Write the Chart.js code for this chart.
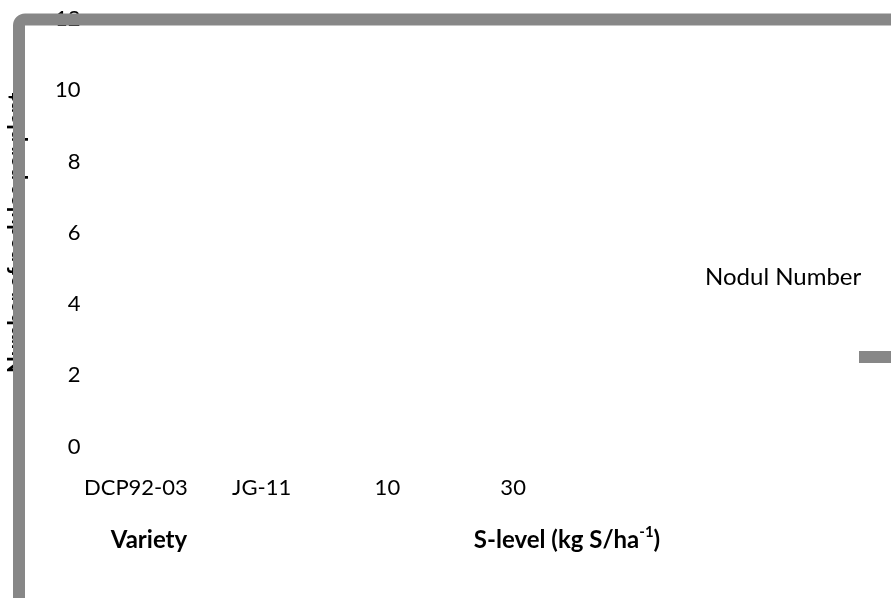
<!DOCTYPE html>
<html>
<head>
<meta charset="utf-8">
<script src="https://cdn.jsdelivr.net/npm/chart.js@4.4.1/dist/chart.umd.min.js"></script>
<style>
  html, body { margin: 0; padding: 0; background: #fff; }
  #wrap { width: 891px; height: 598px; }
</style>
</head>
<body>
<div id="wrap"><canvas id="chart"></canvas></div>
<script>
// data: no bars are visible, so every value sits at zero
const categories = ['DCP92-03', 'JG-11', '10', '30'];
const nodulNumber = [0, 0, 0, 0];
const seriesName = 'Nodul Number';
const yTitle = 'Number of nodules per plant';
const yMin = 0, yMax = 12, yStep = 2;
// group captions under the axis; middle piece of the second is a superscript
const groupLabels = [['Variety'], ['S-level (kg S/ha', '-1', ')']];

const FONT = 'Lato, "Open Sans", sans-serif';
const GREY = '#878787';

const extras = {
  id: 'extras',
  afterDraw(chart) {
    const ctx = chart.ctx;
    const area = chart.chartArea;
    ctx.save();
    ctx.fillStyle = '#000';
    ctx.textBaseline = 'middle';

    // group captions
    const gy = area.bottom + 94;
    ctx.font = 'bold 24px ' + FONT;
    ctx.textAlign = 'center';
    ctx.fillText(groupLabels[0][0], area.left + 76, gy);

    const g = groupLabels[1];
    ctx.font = 'bold 24px ' + FONT;
    const w0 = ctx.measureText(g[0]).width;
    const w2 = ctx.measureText(g[2]).width;
    ctx.font = 'bold 15px ' + FONT;
    const w1 = ctx.measureText(g[1]).width;
    let x = area.left + 494 - (w0 + w1 + w2) / 2;
    ctx.textAlign = 'left';
    ctx.font = 'bold 24px ' + FONT;
    ctx.fillText(g[0], x, gy);
    ctx.font = 'bold 15px ' + FONT;
    ctx.fillText(g[1], x + w0, gy - 8);
    ctx.font = 'bold 24px ' + FONT;
    ctx.fillText(g[2], x + w0 + w1, gy);

    // legend, laid out the way the picture has it
    const ds = chart.data.datasets[0];
    ctx.font = '24px ' + FONT;
    ctx.fillText(ds.label, area.right + 129, 277);
    ctx.fillStyle = ds.backgroundColor;
    ctx.fillRect(area.right + 283, 351, 40, 12);

    // chart frame drawn on top, as in the picture
    ctx.strokeStyle = GREY;
    ctx.lineWidth = 12;
    ctx.beginPath();
    ctx.roundRect(19, 19.5, 1000, 1000, 6);
    ctx.stroke();
    ctx.restore();
  }
};

new Chart(document.getElementById('chart'), {
  type: 'bar',
  data: {
    labels: categories,
    datasets: [{
      label: seriesName,
      data: nodulNumber,
      backgroundColor: GREY,
      borderWidth: 0
    }]
  },
  options: {
    responsive: true,
    maintainAspectRatio: false,
    animation: false,
    layout: { padding: { left: 0, right: 315, top: 19, bottom: 69 } },
    plugins: { legend: { display: false }, tooltip: { enabled: false } },
    scales: {
      x: {
        grid: { display: false, drawTicks: false },
        border: { display: false },
        ticks: { color: '#000', padding: 28, maxRotation: 0, font: { family: FONT, size: 22 } }
      },
      y: {
        min: yMin, max: yMax,
        grid: { display: false, drawTicks: false },
        border: { display: false },
        afterFit(scale) { scale.width = 73; },
        ticks: { stepSize: yStep, color: '#000', mirror: true, crossAlign: 'far', padding: -18,
                 font: { family: FONT, size: 22 } },
        title: { display: true, text: yTitle, color: '#000', padding: { top: 4, bottom: 4 },
                 font: { family: FONT, size: 22, weight: 'bold' } }
      }
    }
  },
  plugins: [extras]
});
</script>
</body>
</html>
